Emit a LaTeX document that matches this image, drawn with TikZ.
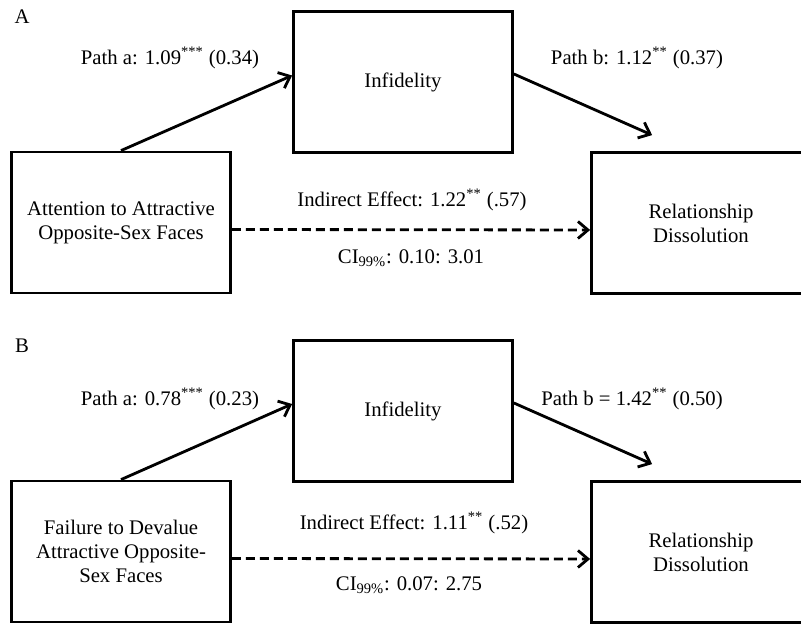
\documentclass[tikz,border=0pt]{standalone}
\usepackage{fontspec}
\setmainfont{Liberation Serif}
\usepackage{tikz}
\usetikzlibrary{positioning, calc, arrows.meta}

\begin{document}
\begin{tikzpicture}[
  x=0.02cm, y=0.02cm,
  varbox/.style={draw, line width=1.6pt, minimum width=4.38cm, minimum height=2.82cm,
    align=center, font=\fontsize{11.8pt}{13.6pt}\selectfont},
  coef/.style={font=\fontsize{11.8pt}{13.6pt}\selectfont},
  patharrow/.style={line width=1.6pt, -{Straight Barb[length=0.2cm, width=0.34cm]}},
  indarrow/.style={patharrow, dash pattern=on 0.18cm off 0.1cm},
]

\useasboundingbox (0,0) rectangle (801,624);

% Panel A
\node[coef] (labA) at (22,607) {A};
\node[varbox] (srcA) at (121,401.5) {Attention to Attractive\\Opposite-Sex Faces};
\node[varbox] (medA) at (403,542) {Infidelity};
\node[varbox] (outA) at (701,401) {Relationship\\Dissolution};
\coordinate (tipA) at ($(outA.north west)+(62,16)$);

\draw[patharrow] (srcA.north) -- ([yshift=0.13cm]medA.west);
\draw[patharrow] ([yshift=0.16cm]medA.east) -- (tipA);
\draw[indarrow] ([yshift=-0.14cm]srcA.east) -- ([yshift=-0.14cm]outA.west);

\node[coef] (pathaA) at (170,566) {Path a: 1.09\textsuperscript{***} (0.34)};
\node[coef] (pathbA) at (637,566) {Path b: 1.12\textsuperscript{**} (0.37)};
\node[coef] (indA) at (412,424) {Indirect Effect: 1.22\textsuperscript{**} (.57)};
\node[coef] (ciA) at (411,366) {CI\textsubscript{99\%}: 0.10: 3.01};

% Panel B
\node[coef] (labB) at (22,278) {B};
\node[varbox] (srcB) at (121,72.5) {Failure to Devalue\\Attractive Opposite-\\Sex Faces};
\node[varbox] (medB) at (403,213) {Infidelity};
\node[varbox] (outB) at (701,72) {Relationship\\Dissolution};
\coordinate (tipB) at ($(outB.north west)+(62,16)$);

\draw[patharrow] (srcB.north) -- ([yshift=0.14cm]medB.west);
\draw[patharrow] ([yshift=0.16cm]medB.east) -- (tipB);
\draw[indarrow] ([yshift=-0.14cm]srcB.east) -- ([yshift=-0.14cm]outB.west);

\node[coef] (pathaB) at (170,225) {Path a: 0.78\textsuperscript{***} (0.23)};
\node[coef] (pathbB) at (632,225) {Path b = 1.42\textsuperscript{**} (0.50)};
\node[coef] (indB) at (414,101) {Indirect Effect: 1.11\textsuperscript{**} (.52)};
\node[coef] (ciB) at (409,39) {CI\textsubscript{99\%}: 0.07: 2.75};

\end{tikzpicture}
\end{document}
